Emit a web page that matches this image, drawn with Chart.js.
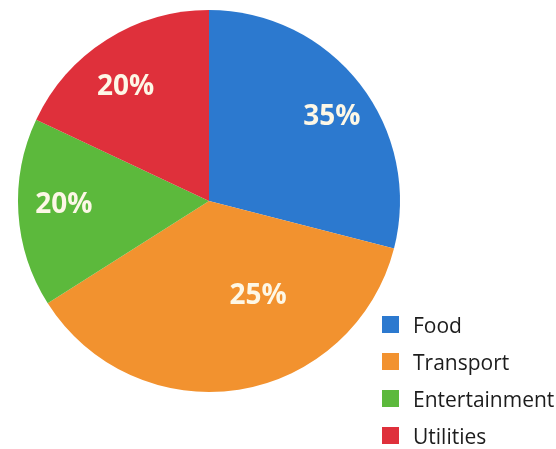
<!DOCTYPE html>
<html>
<head>
<meta charset="utf-8">
<script src="https://cdn.jsdelivr.net/npm/chart.js@4"></script>
<style>
  html, body { margin: 0; padding: 0; background: #fff; }
  #wrap { position: relative; width: 556px; height: 449px; overflow: hidden; }
  #legend { position: absolute; left: 382px; top: 306px; font-family: "Open Sans", sans-serif; font-size: 21px; color: #1c1c1c; }
  .row { display: flex; align-items: center; height: 37px; white-space: nowrap; }
  .sw { width: 17px; height: 17px; margin-right: 14px; }
</style>
</head>
<body>
<div id="wrap">
  <canvas id="pie" width="556" height="449"></canvas>
  <div id="legend"></div>
</div>
<script>
/* ===============================
   DATA
   =============================== */
const categories = ["Food", "Transport", "Entertainment", "Utilities"];
// slice sizes as drawn in the picture
const sliceShares = [29, 37, 16, 18];
// percentages printed on the slices
const sliceLabels = ["35%", "25%", "20%", "20%"];
const sliceColors = ["#2c79cf", "#f2922f", "#5cb93c", "#df303b"];

/* ===============================
   SLICE LABEL PLUGIN
   =============================== */
const labelRadius = [0.78, 0.56, 0.76, 0.74];
const labelShift = [3.4, -18.3, 1.9, -3.7]; // degrees

const sliceText = {
  id: "sliceText",
  afterDatasetsDraw(chart) {
    const ctx = chart.ctx;
    const arcs = chart.getDatasetMeta(0).data;
    ctx.save();
    ctx.font = "bold 28px 'Open Sans', sans-serif";
    ctx.fillStyle = "#fdf7e6";
    ctx.textAlign = "center";
    ctx.textBaseline = "middle";
    arcs.forEach((arc, i) => {
      const p = arc.getProps(["x", "y", "startAngle", "endAngle", "outerRadius"], true);
      const a = (p.startAngle + p.endAngle) / 2 + labelShift[i] * Math.PI / 180;
      const r = p.outerRadius * labelRadius[i];
      ctx.fillText(sliceLabels[i], p.x + Math.cos(a) * r, p.y + Math.sin(a) * r);
    });
    ctx.restore();
  }
};

new Chart(document.getElementById("pie"), {
  type: "pie",
  data: {
    labels: categories,
    datasets: [{
      data: sliceShares,
      backgroundColor: sliceColors,
      borderWidth: 0
    }]
  },
  options: {
    responsive: false,
    animation: false,
    layout: { padding: { left: 15, top: 10, right: 153, bottom: 57 } },
    plugins: { legend: { display: false }, tooltip: { enabled: false } }
  },
  plugins: [sliceText]
});

/* ===============================
   LEGEND
   =============================== */
const legend = document.getElementById("legend");
categories.forEach((name, i) => {
  legend.innerHTML += `<div class="row"><div class="sw" style="background:${sliceColors[i]}"></div>${name}</div>`;
});
</script>
</body>
</html>
